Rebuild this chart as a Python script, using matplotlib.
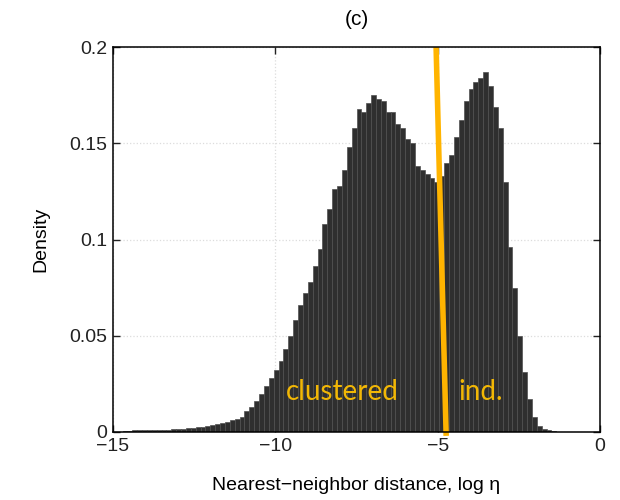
import numpy as np
import matplotlib
matplotlib.use("Agg")
import matplotlib.pyplot as plt

plt.rcParams['font.family'] = ['Liberation Sans', 'DejaVu Sans']

# histogram of log nearest-neighbor distance, 100 bins of width 0.15 on [-15, 0]
bin_edges = np.linspace(-15.0, 0.0, 101)
density = [
	0.0, 0.0, 0.0003, 0.0005, 0.0008, 0.001, 0.0012, 0.0012, 0.0011, 0.001,
	0.001, 0.0011, 0.0013, 0.0015, 0.0017, 0.002, 0.0022, 0.0025, 0.0028, 0.003,
	0.0035, 0.004, 0.0045, 0.005, 0.006, 0.0068, 0.008, 0.011, 0.013, 0.016,
	0.020, 0.024, 0.028, 0.032, 0.037, 0.043, 0.050, 0.058, 0.066, 0.072,
	0.078, 0.086, 0.095, 0.108, 0.116, 0.126, 0.128, 0.136, 0.148, 0.158,
	0.168, 0.166, 0.171, 0.175, 0.173, 0.172, 0.166, 0.166, 0.160, 0.158,
	0.152, 0.150, 0.138, 0.136, 0.134, 0.132, 0.130, 0.133, 0.140, 0.144,
	0.153, 0.162, 0.172, 0.178, 0.182, 0.184, 0.187, 0.180, 0.169, 0.158,
	0.130, 0.096, 0.075, 0.050, 0.031, 0.017, 0.008, 0.003, 0.0015, 0.001,
	0.0005, 0.0002, 0.0, 0.0, 0.0, 0.0, 0.0, 0.0, 0.0, 0.0,
]

# separating threshold (slightly tilted in the original)
split_x = [-5.05, -4.74]
split_y = [0.2, -0.002]

x_ticks = [-15, -10, -5, 0]
y_ticks = [0, 0.05, 0.1, 0.15, 0.2]
y_tick_labels = ['0', '0.05', '0.1', '0.15', '0.2']

fig = plt.figure(figsize=(6.2, 5.0), dpi=100)
ax = fig.add_axes([0.182, 0.136, 0.786, 0.770])

widths = np.diff(bin_edges)
ax.bar(bin_edges[:-1], density, width=widths, align='edge',
	color='#2f2f2f', edgecolor='#505050', linewidth=0.5, zorder=2)

ax.plot(split_x, split_y, color='#FFB400', linewidth=4.0, zorder=4,
	solid_capstyle='butt', clip_on=False)

ax.text(-7.95, 0.021, 'clustered', color='#F2B705', fontsize=20,
	family=['Lato', 'DejaVu Sans'], ha='center', va='center', zorder=5)
ax.text(-3.68, 0.021, 'ind.', color='#F2B705', fontsize=20,
	family=['Lato', 'DejaVu Sans'], ha='center', va='center', zorder=5)

ax.set_xlim(-15, 0)
ax.set_ylim(0, 0.2)
ax.set_xticks(x_ticks)
ax.set_yticks(y_ticks)
ax.set_yticklabels(y_tick_labels)
ax.grid(True, color='#dcdcdc', linestyle=':', linewidth=0.9, zorder=0)
ax.set_axisbelow(True)

ax.tick_params(direction='in', length=5, width=1.0, top=True, right=True,
	labelsize=14, pad=4, colors='#222222')
for s in ax.spines.values() :
	s.set_linewidth(1.1)
	s.set_zorder(6)

ax.set_title('(c)', fontsize=15, pad=16)
ax.set_ylabel('Density', fontsize=14, labelpad=14)
ax.set_xlabel('Nearest\u2212neighbor distance, log \u03b7', fontsize=14, labelpad=16)

plt.savefig('out.png', dpi=100)
plt.close()
